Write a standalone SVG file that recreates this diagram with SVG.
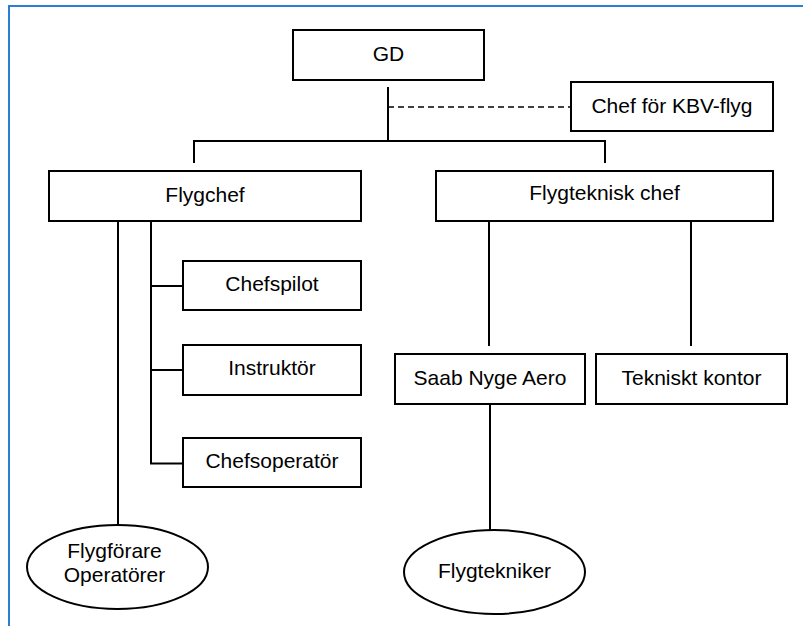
<svg xmlns="http://www.w3.org/2000/svg" width="803" height="626" viewBox="0 0 803 626">
<style>
.box{fill:#fff;stroke:#000;stroke-width:2}
.t{font-family:"Liberation Sans",Arial,sans-serif;font-size:21px;fill:#000;text-anchor:middle}
.c{fill:none;stroke:#000;stroke-width:2}
.d{fill:none;stroke:#000;stroke-width:1.5;stroke-dasharray:6 4}
</style>
<rect width="803" height="626" fill="#fff"/>
<g id="frame" fill="none" stroke="#2a7fd4" stroke-width="2">
<path d="M9 626 V6 H803"/>
</g>
<g id="connectors">
<path class="c" d="M388 87 V141"/>
<path class="d" d="M388 107 H570"/>
<path class="c" d="M194 163 V141 H605 V163"/>
<path class="c" d="M118 221 V525"/>
<path class="c" d="M151 221 V463.5 H183"/>
<path class="c" d="M151 286 H183"/>
<path class="c" d="M151 370 H183"/>
<path class="c" d="M489 221 V346"/>
<path class="c" d="M691 221 V346"/>
<path class="c" d="M490 404 V530"/>
</g>
<g id="gd"><rect class="box" x="293" y="30" width="191" height="50"/><text class="t" x="388.5" y="61">GD</text></g>
<g id="kbv"><rect class="box" x="571" y="82" width="202" height="49"/><text class="t" x="672" y="113">Chef för KBV-flyg</text></g>
<g id="flygchef"><rect class="box" x="49" y="171" width="312" height="50"/><text class="t" x="205" y="202">Flygchef</text></g>
<g id="flygteknisk"><rect class="box" x="436" y="171" width="337" height="50"/><text class="t" x="604.5" y="200">Flygteknisk chef</text></g>
<g id="chefspilot"><rect class="box" x="183" y="261" width="178" height="49"/><text class="t" x="272" y="291">Chefspilot</text></g>
<g id="instruktor"><rect class="box" x="183" y="345" width="178" height="50"/><text class="t" x="272" y="375">Instruktör</text></g>
<g id="chefsoperator"><rect class="box" x="183" y="438" width="178" height="49"/><text class="t" x="272" y="468">Chefsoperatör</text></g>
<g id="saab"><rect class="box" x="395" y="354" width="190" height="50"/><text class="t" x="490" y="385">Saab Nyge Aero</text></g>
<g id="tekniskt"><rect class="box" x="596" y="354" width="191" height="50"/><text class="t" x="691.5" y="385">Tekniskt kontor</text></g>
<g id="flygforare"><ellipse class="box" cx="117.5" cy="567" rx="90.5" ry="42"/><text class="t" x="114.5" y="558">Flygförare</text><text class="t" x="114.5" y="582">Operatörer</text></g>
<g id="flygtekniker"><ellipse class="box" cx="494.5" cy="572" rx="90.5" ry="42"/><text class="t" x="494.5" y="578">Flygtekniker</text></g>
</svg>
